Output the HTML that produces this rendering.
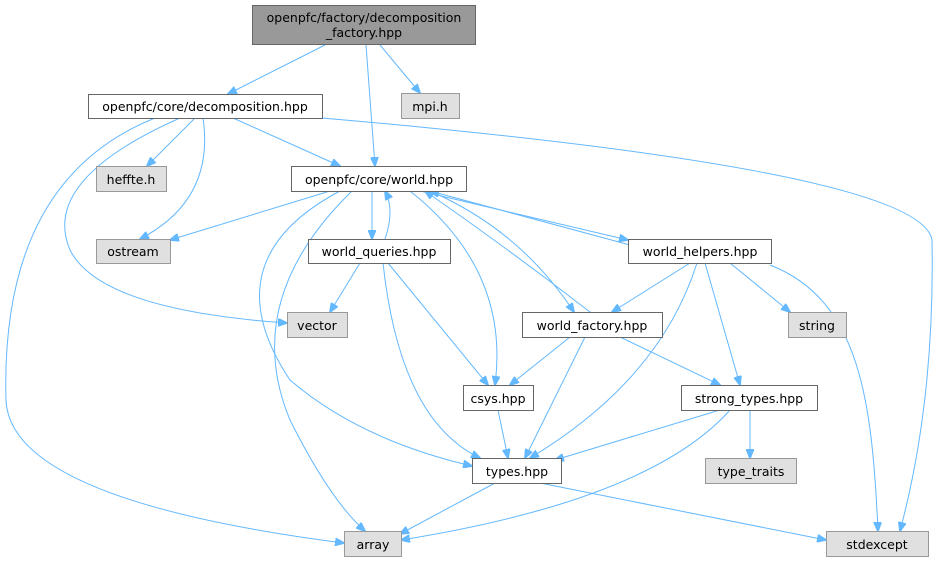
<!DOCTYPE html>
<html><head><meta charset="utf-8"><style>
html,body{margin:0;padding:0;background:#fff;}
svg{display:block;}
text{font-family:"DejaVu Sans","Liberation Sans",sans-serif;font-size:12.5px;fill:#000;text-anchor:middle;}
.e{fill:none;stroke:#63b8ff;stroke-width:1;}
.n{fill:#fff;stroke:#666;stroke-width:1;}
.g{fill:#e0e0e0;stroke:#999;stroke-width:1;}
</style></head><body>
<svg width="940" height="564" viewBox="0 0 940 564" xmlns="http://www.w3.org/2000/svg">
<defs><marker id="a" markerWidth="10" markerHeight="8" refX="9" refY="4" orient="auto" markerUnits="userSpaceOnUse"><path d="M0,0 L10,4 L0,8 z" fill="#63b8ff" stroke="#63b8ff"/></marker></defs>
<g marker-end="url(#a)">
<path class="e" d="M325,45 L228,94"/>
<path class="e" d="M366,45 L375,166"/>
<path class="e" d="M380,45 L420,93"/>
<path class="e" d="M195,118 L147,166"/>
<path class="e" d="M203,118 Q215,200 140,239"/>
<path class="e" d="M233,118 L340,166"/>
<path class="e" d="M180,118 Q40,180 70,250 Q100,310 287,323"/>
<path class="e" d="M155,118 Q0,180 6,400 Q10,500 344,543"/>
<path class="e" d="M322,118 Q920,170 932,240 Q935,400 900,531"/>
<path class="e" d="M330,191 L170,240"/>
<path class="e" d="M372,191 L372,239"/>
<path class="e" d="M420,191 L628,240"/>
<path class="e" d="M430,191 Q520,230 574,312"/>
<path class="e" d="M410,191 Q510,270 495,385"/>
<path class="e" d="M340,191 Q210,260 290,380 Q360,440 472,466"/>
<path class="e" d="M352,191 Q240,300 290,420 Q330,500 365,531"/>
<path class="e" d="M385,239 Q395,210 385,191"/>
<path class="e" d="M360,263 L330,312"/>
<path class="e" d="M388,263 L488,385"/>
<path class="e" d="M383,263 Q400,420 480,458"/>
<path class="e" d="M630,245 L430,191"/>
<path class="e" d="M690,263 L612,312"/>
<path class="e" d="M730,263 L790,312"/>
<path class="e" d="M705,263 L740,385"/>
<path class="e" d="M697,263 Q660,380 530,458"/>
<path class="e" d="M770,265 C860,300 872,400 878,531"/>
<path class="e" d="M590,312 Q510,250 425,191"/>
<path class="e" d="M570,337 L510,385"/>
<path class="e" d="M585,337 L525,458"/>
<path class="e" d="M620,337 L720,385"/>
<path class="e" d="M498,410 L508,458"/>
<path class="e" d="M720,410 L555,460"/>
<path class="e" d="M750,410 L750,458"/>
<path class="e" d="M730,410 Q650,500 401,540"/>
<path class="e" d="M495,483 L400,534"/>
<path class="e" d="M540,483 L826,540"/>
</g>
<rect x="252.5" y="5.5" width="223" height="39" fill="#999" stroke="#666"/>
<text x="364" y="22">openpfc/factory/decomposition</text><text x="364" y="37">_factory.hpp</text>
<rect class="n" x="88.5" y="94.5" width="234" height="24"/><text x="205" y="111">openpfc/core/decomposition.hpp</text>
<rect class="g" x="401.5" y="93.5" width="58" height="25"/><text x="430" y="111">mpi.h</text>
<rect class="g" x="96.5" y="166.5" width="70" height="25"/><text x="131" y="184">heffte.h</text>
<rect class="n" x="291.5" y="166.5" width="175" height="25"/><text x="379" y="184">openpfc/core/world.hpp</text>
<rect class="g" x="96.5" y="239.5" width="74" height="24"/><text x="133" y="256">ostream</text>
<rect class="n" x="308.5" y="239.5" width="142" height="24"/><text x="379" y="256">world_queries.hpp</text>
<rect class="n" x="628.5" y="239.5" width="143" height="24"/><text x="700" y="256">world_helpers.hpp</text>
<rect class="g" x="287.5" y="312.5" width="60" height="25"/><text x="317" y="330">vector</text>
<rect class="n" x="522.5" y="312.5" width="140" height="25"/><text x="592" y="330">world_factory.hpp</text>
<rect class="g" x="788.5" y="312.5" width="58" height="25"/><text x="817" y="330">string</text>
<rect class="n" x="463.5" y="385.5" width="70" height="25"/><text x="498" y="403">csys.hpp</text>
<rect class="n" x="681.5" y="385.5" width="136" height="25"/><text x="749" y="403">strong_types.hpp</text>
<rect class="n" x="472.5" y="458.5" width="89" height="25"/><text x="517" y="476">types.hpp</text>
<rect class="g" x="705.5" y="458.5" width="91" height="25"/><text x="751" y="476">type_traits</text>
<rect class="g" x="344.5" y="531.5" width="57" height="25"/><text x="373" y="549">array</text>
<rect class="g" x="826.5" y="531.5" width="102" height="25"/><text x="877" y="549">stdexcept</text>
</svg>
</body></html>
